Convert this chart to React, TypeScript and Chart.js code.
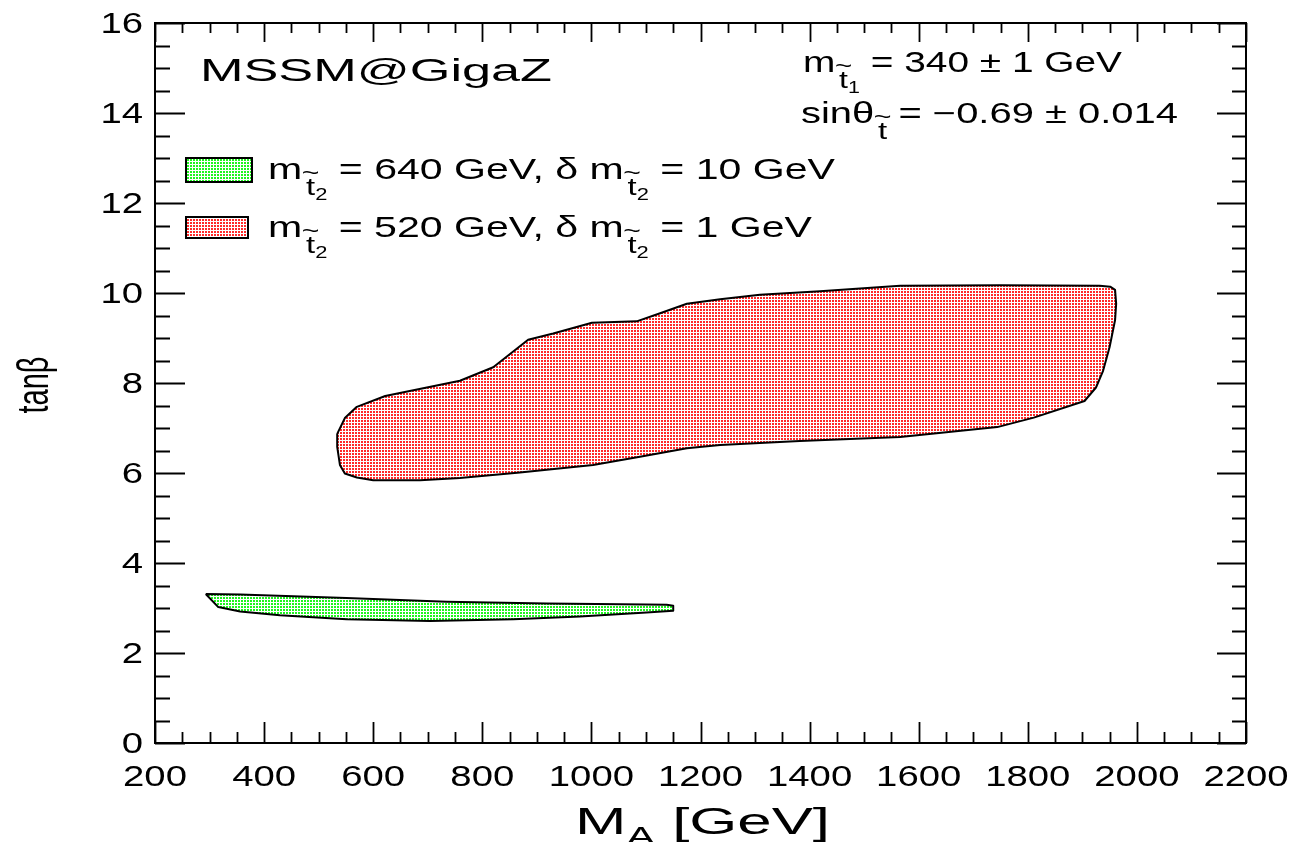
import React, { useEffect, useRef } from "react";
import { Chart, registerables } from "chart.js";

Chart.register(...registerables);

// ---- data ----
const redX = [534, 548, 570, 622, 759, 820, 884, 930, 1001, 1083, 1126, 1175, 1236, 1309, 1419, 1566, 1749, 1932, 1951, 1960, 1962, 1960, 1950, 1938, 1925, 1904, 1811, 1744, 1566, 1382, 1236, 1175, 1089, 1003, 869, 759, 686, 600, 570, 548, 539, 534, 534];
const redY = [6.87, 7.22, 7.47, 7.71, 8.05, 8.35, 8.96, 9.10, 9.34, 9.37, 9.55, 9.76, 9.86, 9.96, 10.04, 10.16, 10.17, 10.16, 10.14, 10.07, 9.76, 9.40, 8.80, 8.27, 7.90, 7.60, 7.23, 7.02, 6.80, 6.71, 6.62, 6.55, 6.36, 6.18, 6.01, 5.89, 5.84, 5.84, 5.90, 5.99, 6.18, 6.58, 6.87];
const greenX = [293, 356, 551, 735, 918, 1101, 1138, 1150, 1150, 1101, 979, 857, 704, 551, 429, 356, 316, 293];
const greenY = [3.31, 3.30, 3.22, 3.14, 3.10, 3.08, 3.07, 3.05, 2.94, 2.90, 2.81, 2.75, 2.71, 2.75, 2.84, 2.92, 3.02, 3.31];

const xTickLabels = [200, 400, 600, 800, 1000, 1200, 1400, 1600, 1800, 2000, 2200];
const yTickLabels = [0, 2, 4, 6, 8, 10, 12, 14, 16];
const xMinorStep = 50;
const yMinorStep = 0.5;

const FONT = '"Liberation Sans", Arial, Helvetica, sans-serif';

type Piece = { t: string; s: number; dy?: number; over?: boolean };

function piecesWidth(ctx: CanvasRenderingContext2D, pieces: Piece[]) {
  let w = 0;
  for (const p of pieces) {
    if (p.over) continue;
    ctx.font = `${p.s}px ${FONT}`;
    w += ctx.measureText(p.t).width;
  }
  return w;
}

function drawRich(
  ctx: CanvasRenderingContext2D,
  pieces: Piece[],
  x: number,
  y: number,
  opts: { sx?: number; width?: number; align?: "left" | "center" | "right" }
) {
  const nat = piecesWidth(ctx, pieces);
  const sx = opts.width ? opts.width / nat : opts.sx ?? 1;
  const total = nat * sx;
  let x0 = x;
  if (opts.align === "center") x0 = x - total / 2;
  if (opts.align === "right") x0 = x - total;
  ctx.save();
  ctx.translate(x0, y);
  ctx.scale(sx, 1);
  ctx.fillStyle = "#000";
  ctx.textAlign = "left";
  ctx.textBaseline = "alphabetic";
  let cx = 0;
  let lastX = 0;
  let lastW = 0;
  for (const p of pieces) {
    ctx.font = `${p.s}px ${FONT}`;
    const w = ctx.measureText(p.t).width;
    if (p.over) {
      ctx.fillText(p.t, lastX + lastW / 2 - w / 2, p.dy ?? 0);
    } else {
      ctx.fillText(p.t, cx, p.dy ?? 0);
      lastX = cx;
      lastW = w;
      cx += w;
    }
  }
  ctx.restore();
}

function makePattern(color: string) {
  const c = document.createElement("canvas");
  c.width = 3;
  c.height = 3;
  const g = c.getContext("2d")!;
  g.fillStyle = "#ffffff";
  g.fillRect(0, 0, 3, 3);
  g.fillStyle = color;
  g.fillRect(1, 0, 2, 2);
  return g.createPattern(c, "repeat")!;
}

const sub = (idx: string): Piece[] => [
  { t: " ", s: 10 },
  { t: "t", s: 24, dy: 16 },
  { t: "~", s: 22, dy: 1, over: true },
  { t: idx, s: 16, dy: 21 },
];

export default function App() {
  const ref = useRef<HTMLCanvasElement>(null);

  useEffect(() => {
    const canvas = ref.current!;
    const redPat = makePattern("#ff2a2a");
    const greenPat = makePattern("#20f520");

    const frame = {
      id: "frame",
      afterDraw(chart: any) {
        const ctx: CanvasRenderingContext2D = chart.ctx;
        const a = chart.chartArea;
        const xs = chart.scales.x;
        const ys = chart.scales.y;
        ctx.save();
        ctx.strokeStyle = "#000";
        ctx.lineWidth = 2;
        ctx.strokeRect(a.left, a.top, a.right - a.left, a.bottom - a.top);
        ctx.lineWidth = 1.8;
        ctx.beginPath();
        for (let v = xs.min; v <= xs.max + 1e-6; v += xMinorStep) {
          const px = Math.round(xs.getPixelForValue(v)) + 0.5;
          const major = xTickLabels.includes(v);
          const lb = major ? 21 : 11;
          const lt = major ? 19 : 10;
          ctx.moveTo(px, a.bottom);
          ctx.lineTo(px, a.bottom - lb);
          ctx.moveTo(px, a.top);
          ctx.lineTo(px, a.top + lt);
        }
        for (let v = ys.min; v <= ys.max + 1e-6; v += yMinorStep) {
          const py = Math.round(ys.getPixelForValue(v)) + 0.5;
          const major = yTickLabels.includes(v);
          const l = major ? 30 : 15;
          const r = major ? 29 : 14;
          ctx.moveTo(a.left, py);
          ctx.lineTo(a.left + l, py);
          ctx.moveTo(a.right, py);
          ctx.lineTo(a.right - r, py);
        }
        ctx.stroke();

        // tick labels
        for (const v of yTickLabels) {
          const py = ys.getPixelForValue(v);
          drawRich(ctx, [{ t: String(v), s: 29 }], 143, py + 10, { sx: 1.32, align: "right" });
        }
        for (const v of xTickLabels) {
          const px = xs.getPixelForValue(v);
          drawRich(ctx, [{ t: String(v), s: 29 }], px, 786, { sx: 1.32, align: "center" });
        }

        // axis titles
        drawRich(
          ctx,
          [
            { t: "M", s: 36 },
            { t: "A", s: 25, dy: 11 },
            { t: " [GeV]", s: 36 },
          ],
          575,
          834,
          { width: 255 }
        );
        ctx.save();
        ctx.translate(48, 385);
        ctx.rotate(-Math.PI / 2);
        ctx.scale(0.66, 1);
        ctx.font = `44px ${FONT}`;
        ctx.fillStyle = "#000";
        ctx.textAlign = "center";
        ctx.fillText("tan\u03b2", 0, 0);
        ctx.restore();

        // annotations
        drawRich(ctx, [{ t: "MSSM@GigaZ", s: 31 }], 200, 81, { width: 352 });
        drawRich(
          ctx,
          [{ t: "m", s: 29 }, ...sub("1"), { t: " = 340 \u00b1 1 GeV", s: 29 }],
          803,
          72,
          { width: 319 }
        );
        drawRich(
          ctx,
          [
            { t: "sin\u03b8", s: 29 },
            { t: " ", s: 10 },
            { t: "t", s: 24, dy: 16 },
            { t: "~", s: 22, dy: 1, over: true },
            { t: " = \u22120.69 \u00b1 0.014", s: 29 },
          ],
          801,
          123,
          { width: 377 }
        );

        // legend
        const boxes = [
          { x: 186, y: 158, w: 66, h: 24, pat: greenPat },
          { x: 186, y: 217, w: 62, h: 21, pat: redPat },
        ];
        for (const b of boxes) {
          ctx.fillStyle = b.pat;
          ctx.fillRect(b.x, b.y, b.w, b.h);
          ctx.lineWidth = 2;
          ctx.strokeStyle = "#000";
          ctx.strokeRect(b.x, b.y, b.w, b.h);
        }
        drawRich(
          ctx,
          [
            { t: "m", s: 30 },
            ...sub("2"),
            { t: " = 640 GeV, \u03b4 m", s: 30 },
            ...sub("2"),
            { t: " = 10 GeV", s: 30 },
          ],
          268,
          179,
          { width: 567 }
        );
        drawRich(
          ctx,
          [
            { t: "m", s: 30 },
            ...sub("2"),
            { t: " = 520 GeV, \u03b4 m", s: 30 },
            ...sub("2"),
            { t: " = 1 GeV", s: 30 },
          ],
          268,
          237,
          { width: 544 }
        );
        ctx.restore();
      },
    };

    const chart = new Chart(canvas, {
      type: "line",
      data: {
        datasets: [
          {
            label: "m_t2 = 520 GeV",
            data: redX.map((x, i) => ({ x, y: redY[i] })),
            borderColor: "#000",
            borderWidth: 2,
            backgroundColor: redPat as any,
            fill: "shape" as any,
            pointRadius: 0,
            tension: 0,
            borderJoinStyle: "round",
          },
          {
            label: "m_t2 = 640 GeV",
            data: greenX.map((x, i) => ({ x, y: greenY[i] })),
            borderColor: "#000",
            borderWidth: 2,
            backgroundColor: greenPat as any,
            fill: "shape" as any,
            pointRadius: 0,
            tension: 0,
            borderJoinStyle: "round",
          },
        ],
      },
      options: {
        animation: false,
        responsive: false,
        devicePixelRatio: 1,
        layout: { padding: { left: 155, top: 23, right: 60, bottom: 99 } },
        plugins: { legend: { display: false }, tooltip: { enabled: false } },
        scales: {
          x: { type: "linear", min: 200, max: 2200, display: false },
          y: { type: "linear", min: 0, max: 16, display: false },
        },
      },
      plugins: [frame],
    });
    return () => chart.destroy();
  }, []);

  return (
    <div style={{ position: "fixed", left: 0, top: 0, width: 1306, height: 842, background: "#fff" }}>
      <canvas ref={ref} width={1306} height={842} style={{ width: 1306, height: 842, display: "block" }} />
    </div>
  );
}
